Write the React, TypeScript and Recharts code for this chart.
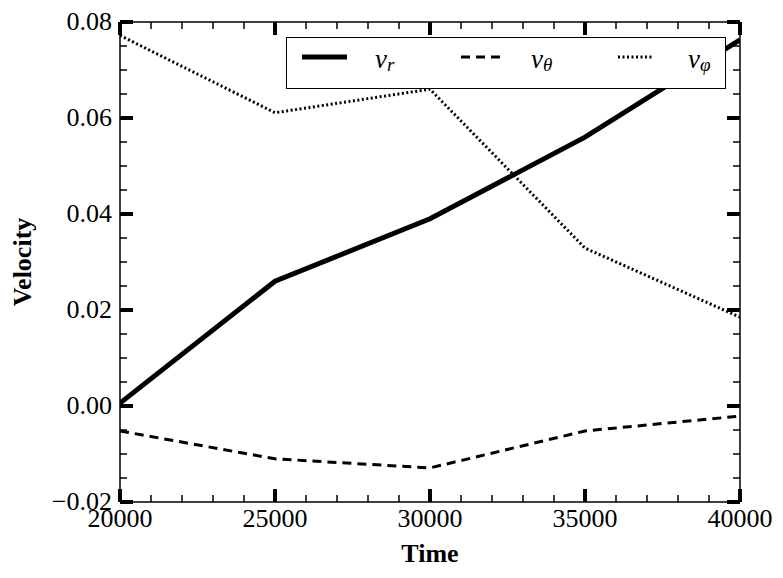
import React from 'react';
import { LineChart, Line, XAxis, YAxis, Legend } from 'recharts';

const times = [20000, 25000, 30000, 35000, 40000];
const vR = [0.0006, 0.026, 0.039, 0.056, 0.0763];
const vTheta = [-0.0052, -0.011, -0.0129, -0.0052, -0.0021];
const vPhi = [0.0772, 0.0611, 0.066, 0.0329, 0.0185];

const xMajor = [20000, 25000, 30000, 35000, 40000];
const xAll = [
  20000, 21000, 22000, 23000, 24000, 25000, 26000, 27000, 28000, 29000, 30000,
  31000, 32000, 33000, 34000, 35000, 36000, 37000, 38000, 39000, 40000,
];
const yMajor = [-0.02, 0, 0.02, 0.04, 0.06, 0.08];
const yAll = [
  -0.02, -0.015, -0.01, -0.005, 0, 0.005, 0.01, 0.015, 0.02, 0.025, 0.03, 0.035,
  0.04, 0.045, 0.05, 0.055, 0.06, 0.065, 0.07, 0.075, 0.08,
];
const xLabels = ['20000', '25000', '30000', '35000', '40000'];
const yLabels = ['\u22120.02', '0.00', '0.02', '0.04', '0.06', '0.08'];

const data = times.map((t, i) => ({ t, vr: vR[i], vtheta: vTheta[i], vphi: vPhi[i] }));

const FONT = '"Liberation Serif", "Times New Roman", Times, serif';
const X_DOMAIN = [20000, 40000];
const Y_DOMAIN = [-0.02, 0.08];

const XTick = ({ x, y, index }: any) => (
  <text x={x} y={y} dy={17} textAnchor="middle" style={{ fontFamily: FONT, fontSize: 26 }} fill="#000">
    {xLabels[index]}
  </text>
);

const YTick = ({ x, y, index }: any) => (
  <text x={x} y={y} dy={8} textAnchor="end" style={{ fontFamily: FONT, fontSize: 26 }} fill="#000">
    {yLabels[index]}
  </text>
);

// inward tick marks; major ones thick and long, minor ones thin and short
const isMajor = (v: number, majors: number[]) => majors.some((m) => Math.abs(m - v) < 1e-9);
const makeTick = (side: 'bottom' | 'top' | 'left' | 'right', majors: number[]) => (props: any) => {
  const { x, y, payload } = props;
  const major = isMajor(payload.value, majors);
  const len = major ? 13 : 7;
  const sw = major ? 4 : 1.5;
  let x2 = x, y2 = y;
  if (side === 'bottom') y2 = y - len;
  if (side === 'top') y2 = y + len;
  if (side === 'left') x2 = x + len;
  if (side === 'right') x2 = x - len;
  return <line x1={x} y1={y} x2={x2} y2={y2} stroke="#000" strokeWidth={sw} />;
};

const legendItems = [
  { key: 'vr', sub: 'r', width: 5, dash: undefined, x: 16, len: 45, tx: 89 },
  { key: 'vtheta', sub: '\u03b8', width: 3, dash: '9 6', x: 175, len: 40, tx: 245 },
  { key: 'vphi', sub: '\u03c6', width: 3, dash: '2 2.5', x: 332, len: 36, tx: 402 },
];

const LegendBox = () => (
  <svg width={440} height={52} style={{ display: 'block' }}>
    <rect x={0.5} y={0.5} width={439} height={51} fill="#fff" stroke="#000" strokeWidth={1} />
    {legendItems.map((it) => (
      <g key={it.key}>
        <line x1={it.x} x2={it.x + it.len} y1={20} y2={20} stroke="#000" strokeWidth={it.width} strokeDasharray={it.dash} />
        <text x={it.tx} y={31} style={{ fontFamily: FONT, fontSize: 27, fontStyle: 'italic' }} fill="#000">
          v
          <tspan style={{ fontSize: 19 }} dy={3}>{it.sub}</tspan>
        </text>
      </g>
    ))}
  </svg>
);

const tickAxisProps = {
  type: 'number' as const,
  mirror: true,
  allowDataOverflow: true,
  interval: 0 as const,
  tickLine: false,
  tickSize: 0,
  tickMargin: 0,
};

export default function App() {
  return (
    <div style={{ position: 'absolute', left: 0, top: 0, width: 783, height: 578, background: '#fff' }}>
      <LineChart width={783} height={578} data={data} margin={{ top: 22, right: 43, bottom: 0, left: 0 }}>
        {/* frame with inward ticks on all four sides */}
        <XAxis {...tickAxisProps} xAxisId="bTicks" dataKey="t" orientation="bottom" height={1} domain={X_DOMAIN} ticks={xAll} axisLine={false} tick={makeTick('bottom', xMajor)} />
        <XAxis {...tickAxisProps} xAxisId="tTicks" dataKey="t" orientation="top" height={1} domain={X_DOMAIN} ticks={xAll} axisLine={{ stroke: '#000', strokeWidth: 1.5 }} tick={makeTick('top', xMajor)} />
        <YAxis {...tickAxisProps} yAxisId="lTicks" orientation="left" width={1} domain={Y_DOMAIN} ticks={yAll} axisLine={false} tick={makeTick('left', yMajor)} />
        <YAxis {...tickAxisProps} yAxisId="rTicks" orientation="right" width={1} domain={Y_DOMAIN} ticks={yAll} axisLine={{ stroke: '#000', strokeWidth: 1.5 }} tick={makeTick('right', yMajor)} />

        {/* labelled axes */}
        <XAxis
          xAxisId="x"
          dataKey="t"
          type="number"
          domain={X_DOMAIN}
          ticks={xMajor}
          interval={0}
          allowDataOverflow
          height={76}
          tickLine={false}
          tickSize={0}
          tickMargin={8}
          axisLine={{ stroke: '#000', strokeWidth: 1.5 }}
          tick={<XTick />}
          label={({ viewBox }: any) => (
            <text x={viewBox.x + viewBox.width / 2} y={viewBox.y + 60} textAnchor="middle" style={{ fontFamily: FONT, fontSize: 26, fontWeight: 'bold' }} fill="#000">
              Time
            </text>
          )}
        />
        <YAxis
          yAxisId="y"
          type="number"
          domain={Y_DOMAIN}
          ticks={yMajor}
          interval={0}
          allowDataOverflow
          width={120}
          tickLine={false}
          tickSize={0}
          tickMargin={8}
          axisLine={{ stroke: '#000', strokeWidth: 1.5 }}
          tick={<YTick />}
          label={({ viewBox }: any) => {
            const cx = viewBox.x + 22;
            const cy = viewBox.y + viewBox.height / 2;
            return (
              <text x={cx} y={cy} transform={`rotate(-90 ${cx} ${cy})`} textAnchor="middle" dominantBaseline="central" style={{ fontFamily: FONT, fontSize: 26, fontWeight: 'bold' }} fill="#000">
                Velocity
              </text>
            );
          }}
        />

        <Legend
          layout="horizontal"
          verticalAlign="middle"
          align="center"
          content={<LegendBox />}
          wrapperStyle={{ position: 'absolute', left: 286, top: 37, width: 440, height: 52 }}
        />

        <Line xAxisId="x" yAxisId="y" dataKey="vr" type="linear" stroke="#000" strokeWidth={5} dot={false} isAnimationActive={false} />
        <Line xAxisId="x" yAxisId="y" dataKey="vtheta" type="linear" stroke="#000" strokeWidth={3} strokeDasharray="9 6" dot={false} isAnimationActive={false} />
        <Line xAxisId="x" yAxisId="y" dataKey="vphi" type="linear" stroke="#000" strokeWidth={3} strokeDasharray="2 2.5" dot={false} isAnimationActive={false} />
      </LineChart>
    </div>
  );
}
